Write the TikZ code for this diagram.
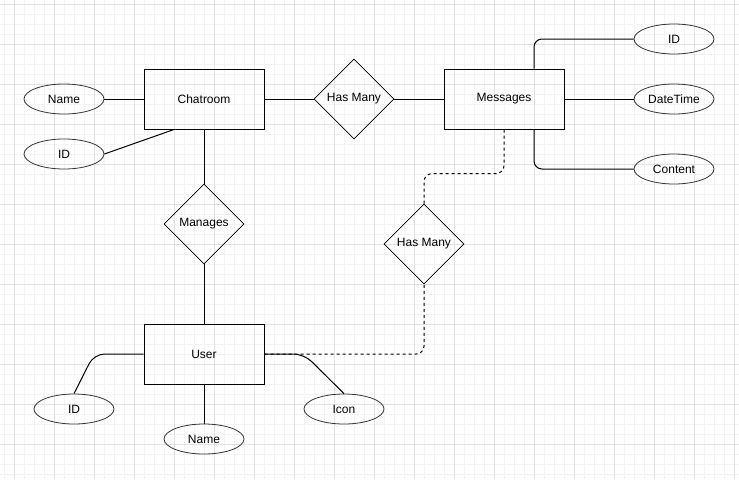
\documentclass[tikz,border=0pt]{standalone}
\usepackage{fontspec}
\setmainfont{Liberation Sans}
\usepackage{xcolor}
\usetikzlibrary{shapes.geometric}
\definecolor{gridmajor}{HTML}{E2E2E2}
\definecolor{gridminor}{HTML}{F3F3F3}
\tikzset{entity/.style = {draw, line width=0.75pt, minimum width=90pt, minimum height=45pt, inner sep=0pt},
  relation/.style = {draw, diamond, line width=0.6pt, minimum width=60pt, minimum height=60pt, inner sep=0pt, aspect=1},
  attrib/.style = {draw, ellipse, line width=0.6pt, draw=black!80, minimum width=60pt, minimum height=22.5pt, inner sep=0pt},
  link/.style = {line width=0.75pt},
  weak link/.style = {line width=0.75pt, dash pattern=on 2.25pt off 2.25pt}
}

\begin{document}
\begin{tikzpicture}[x=0.75pt,y=-0.75pt,every node/.style={font=\fontsize{9}{11}\selectfont}]
  \useasboundingbox (0,0) rectangle (739,479);
  \foreach \i in {0,...,73} \draw[gridminor,line width=0.75pt] (4.5+10*\i,0) -- (4.5+10*\i,479);
  \foreach \i in {0,...,47} \draw[gridminor,line width=0.75pt] (0,4.5+10*\i) -- (739,4.5+10*\i);
  \foreach \i in {0,...,18} \draw[gridmajor,line width=0.75pt] (14.5+40*\i,0) -- (14.5+40*\i,479);
  \foreach \i in {0,...,11} \draw[gridmajor,line width=0.75pt] (0,4.5+40*\i) -- (739,4.5+40*\i);
  % entities
  \node[entity] (C) at (204,99) {Chatroom};
  \node[entity] (M) at (504,99) {Messages};
  \node[entity] (U) at (204,354) {User};
  % relations
  \node[relation] (HM1) at (354,99) {Has Many};
  \node[relation] (HM2) at (424,244) {Has Many};
  \node[relation] (MG) at (204,224) {Manages};
  % attributes
  \node[attrib] (CName) at (64,99) {Name};
  \node[attrib] (CID) at (64,154) {ID};
  \node[attrib] (MID) at (674,39) {ID};
  \node[attrib] (MDate) at (674,99) {DateTime};
  \node[attrib] (MCont) at (674,169) {Content};
  \node[attrib] (UID) at (74,409) {ID};
  \node[attrib] (UName) at (204,439) {Name};
  \node[attrib] (UIcon) at (344,409) {Icon};
  % connectors
  \draw[weak link, rounded corners=6pt] (U.east) -| (HM2.south);
  \draw[weak link, rounded corners=6pt] (HM2.north) -- ++(0,-30) -| (M.south);
  \draw[link] (CName) -- (C);
  \draw[link] ([xshift=-22.5pt]C.south) -- (CID.east);
  \draw[link] (C) -- (HM1) -- (M);
  \draw[link] (C) -- (MG) -- (U);
  \draw[link, rounded corners=6pt] ([xshift=22.5pt]M.north) |- (MID.west);
  \draw[link] (M) -- (MDate);
  \draw[link, rounded corners=6pt] ([xshift=22.5pt]M.south) |- (MCont.west);
  \draw[link, rounded corners=8pt] (U.west) -- (94,354) -- (UID.north);
  \draw[link] (U) -- (UName);
  \draw[link, rounded corners=8pt] (U.east) -- (304,354) -- (UIcon.north);
\end{tikzpicture}
\end{document}
